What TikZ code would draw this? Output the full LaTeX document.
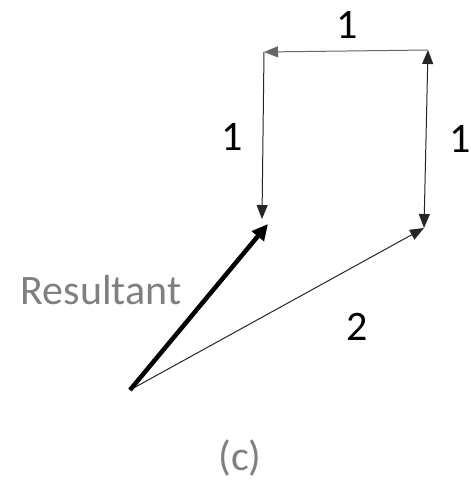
\documentclass[tikz,border=0pt]{standalone}
\usepackage{fontspec}
\setmainfont{Carlito}
\usetikzlibrary{arrows.meta}
\definecolor{lbl}{RGB}{128,128,128}
\tikzset{
  vec/.style={line width=1pt, draw=black!85, -{Triangle[length=14pt,width=11pt]}},
  res/.style={line width=4.5pt, draw=black, -{Triangle[length=16pt,width=15pt]}},
  num/.style={font=\fontsize{42}{46}\selectfont, text=black, inner sep=0pt},
  glabel/.style={font=\fontsize{42}{46}\selectfont, text=lbl, inner sep=0pt}
}
\begin{document}
\begin{tikzpicture}[x=1pt,y=-1pt]
\useasboundingbox (0,0) rectangle (471,483);
\coordinate (O) at (130,390);
\coordinate (A) at (424,228);
\coordinate (B) at (428,50);
\coordinate (C) at (264,52);
\coordinate (D) at (262,219);
\coordinate (R) at (268,224);
\draw[vec] (O) -- (A);
\draw[vec, {Triangle[length=14pt,width=11pt]}-{Triangle[length=14pt,width=11pt]}] (A) -- (B);
\draw[vec, draw=black!60] (B) -- (C);
\draw[vec] (C) -- (D);
\draw[res] (O) -- (R);
\node[num] (t1) at (347,25) {1};
\node[num] (l1) at (232,137) {1};
\node[num] (r1) at (460,139) {1};
\node[num] (n2) at (357,327) {2};
\node[glabel] (res) at (101,290) {Resultant};
\node[glabel] (c) at (240,458) {(c)};
\end{tikzpicture}
\end{document}
